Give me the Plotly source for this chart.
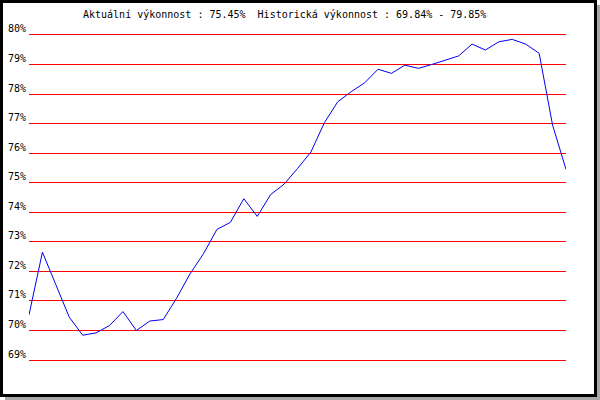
import plotly.graph_objects as go

# Data (percent)
values = [70.53, 72.65, 71.55, 70.45, 69.84, 69.92, 70.17, 70.64, 70.00, 70.32,
          70.37, 71.10, 71.92, 72.60, 73.42, 73.66, 74.46, 73.86, 74.60, 74.95,
          75.48, 76.04, 77.03, 77.74, 78.08, 78.38, 78.84, 78.70, 78.98, 78.87,
          79.00, 79.15, 79.29, 79.69, 79.49, 79.77, 79.85, 79.69, 79.38, 76.95,
          75.45]
positions = list(range(len(values)))
tick_vals = list(range(69, 81))
tick_text = [f"{v}%" for v in tick_vals]

current = 75.45
hist_min = 69.84
hist_max = 79.85

W, H = 600, 400
ML, MR, MT, MB = 29, 34, 32, 37
PW, PH = W - ML - MR, H - MT - MB
FONT = "DejaVu Sans Mono"


def px_x(px):
    return (px - ML) / PW


def px_y(py):
    return (H - MB - py) / PH


fig = go.Figure()
fig.add_trace(go.Scatter(
    x=positions, y=values, mode="lines",
    line=dict(color="#0000ee", width=1),
    hoverinfo="skip", showlegend=False,
))

title = (f"Aktuální výkonnost : {current:.2f}%\u00a0 "
         f"Historická výkonnost : {hist_min:.2f}% - {hist_max:.2f}%")

shapes = [
    # shadow
    dict(type="rect", xref="paper", yref="paper", layer="below",
         x0=px_x(5), x1=px_x(600), y0=px_y(400), y1=px_y(5),
         fillcolor="#a8a8a8", line=dict(width=0)),
    # black frame
    dict(type="rect", xref="paper", yref="paper", layer="below",
         x0=px_x(0), x1=px_x(597), y0=px_y(397), y1=px_y(0),
         fillcolor="#000000", line=dict(width=0)),
    # white inner area
    dict(type="rect", xref="paper", yref="paper", layer="below",
         x0=px_x(3), x1=px_x(594), y0=px_y(394), y1=px_y(3),
         fillcolor="#ffffff", line=dict(width=0)),
]

fig.update_layout(
    width=W, height=H,
    margin=dict(l=ML, r=MR, t=MT, b=MB, pad=0, autoexpand=False),
    paper_bgcolor="#ffffff",
    plot_bgcolor="rgba(0,0,0,0)",
    font=dict(family=FONT, size=10, color="#000000"),
    shapes=shapes,
    showlegend=False,
    annotations=[dict(
        text=title, xref="paper", yref="paper",
        x=px_x(81), y=px_y(14), xanchor="left", yanchor="middle",
        showarrow=False, font=dict(family=FONT, size=10, color="#000000"),
    )],
)
fig.update_xaxes(range=[0, len(values) - 1], visible=False, showgrid=False,
                 zeroline=False, automargin=False)
fig.update_yaxes(
    range=[68.9, 80.1], tickvals=tick_vals, ticktext=tick_text,
    showgrid=True, gridcolor="#ff0000", gridwidth=1, zeroline=False,
    showline=False, ticks="", ticklabelshift=-6, ticklabelstandoff=2,
    automargin=False,
    tickfont=dict(family=FONT, size=10, color="#000000"),
)

fig.write_html(
    "out.html",
    config={"displayModeBar": False},
    post_script="document.body.style.margin='0';document.body.style.padding='0';",
)
